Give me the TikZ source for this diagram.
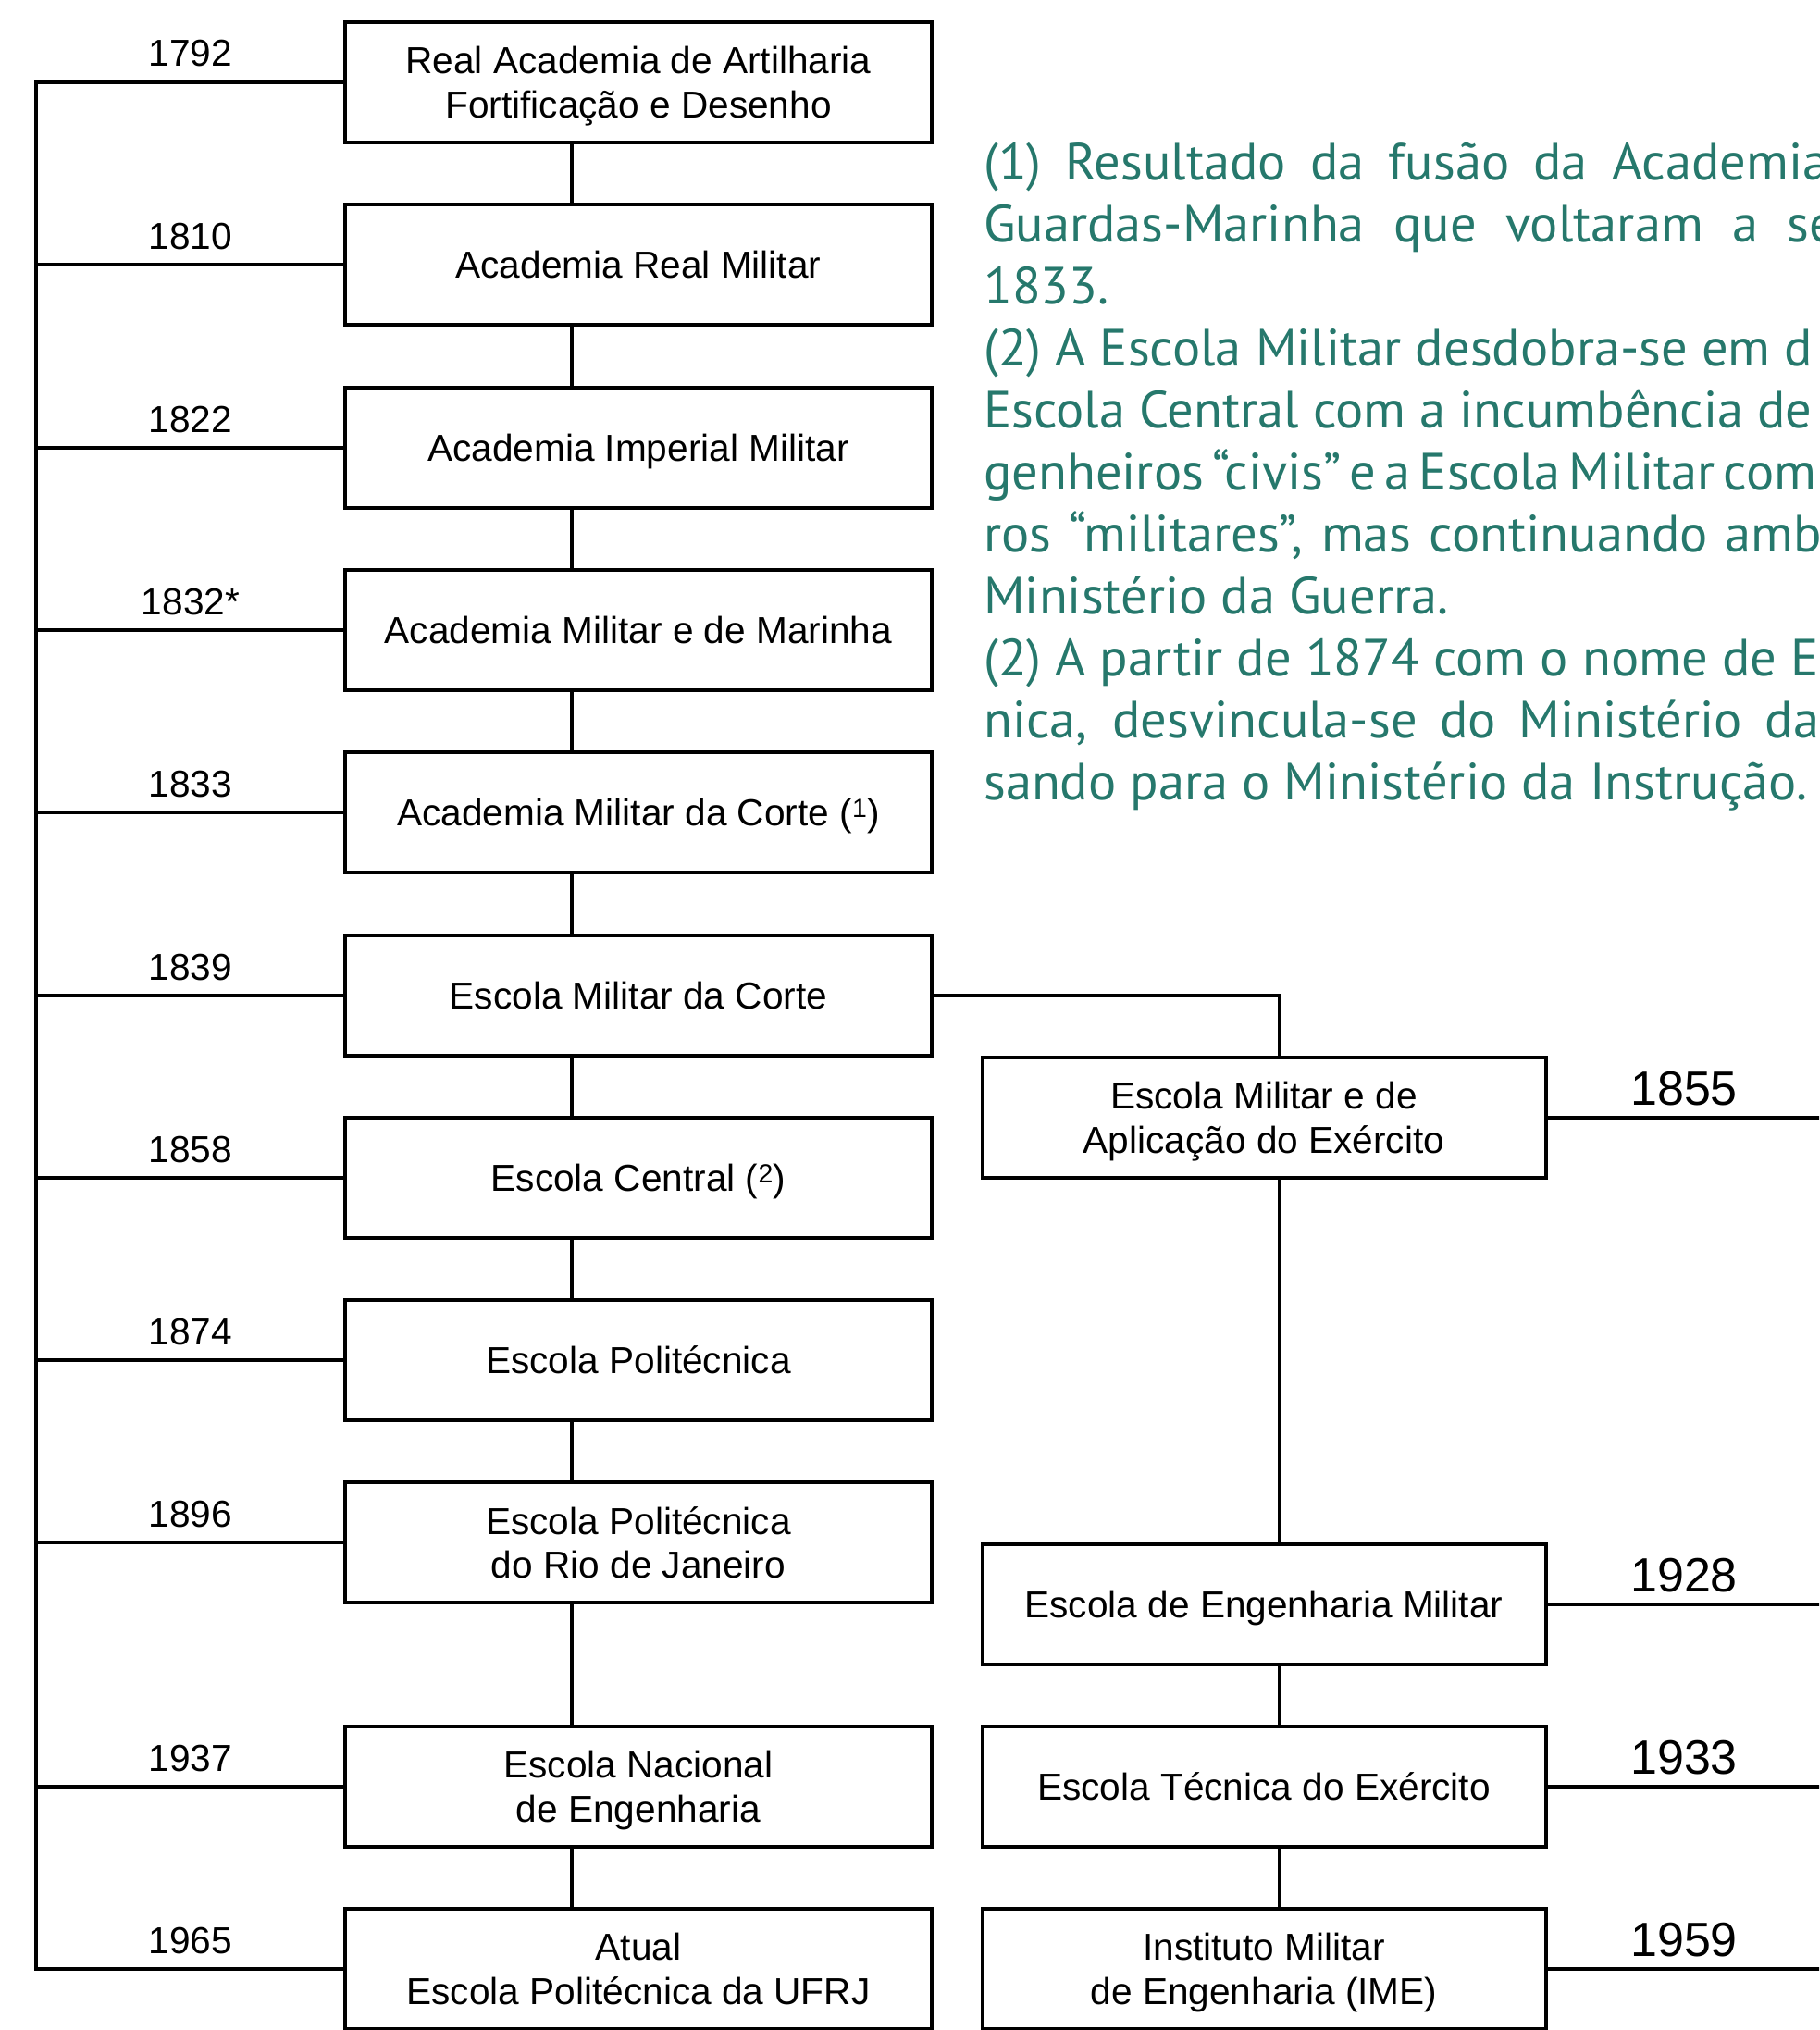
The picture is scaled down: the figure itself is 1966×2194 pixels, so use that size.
\documentclass[tikz,border=0pt]{standalone}
\usepackage{fontspec}
\usepackage{xcolor}
\setmainfont{Liberation Sans}
\newfontfamily\notefont{PT Sans}
\definecolor{notegreen}{HTML}{26786C}

\begin{document}
\begin{tikzpicture}[x=1pt,y=-1pt,
  escola/.style={draw,line width=4pt,minimum width=634pt,minimum height=130pt,inner sep=0pt,text depth=0pt,align=center,font=\fontsize{40.6}{47.6}\selectfont},
  ano/.style={anchor=base,font=\fontsize{40.6}{47.6}\selectfont},
  anobig/.style={anchor=base,font=\fontsize{52}{60}\selectfont},
  linha/.style={line width=3.5pt},
  nota/.style={anchor=base west,inner sep=0pt,text=notegreen,font=\notefont\fontsize{56.5}{67}\selectfont}]
\useasboundingbox (0,0) rectangle (1966,2194);
\clip (0,0) rectangle (1966,2194);
\coordinate (spine) at (39,0);
\coordinate (rim) at (1990,0);
% left column
  \foreach \n/\y/\yr/\txt in {0/89/1792/{Real Academia de Artilharia\\Fortificação e Desenho},
    1/286/1810/{Academia Real Militar},2/484/1822/{Academia Imperial Militar},
    3/681/1832*/{Academia Militar e de Marinha},4/878/1833/{Academia Militar da Corte (\textsuperscript{1})},
    5/1076/1839/{Escola Militar da Corte},6/1273/1858/{Escola Central (\textsuperscript{2})},
    7/1470/1874/{Escola Politécnica},8/1667/1896/{Escola Politécnica\\do Rio de Janeiro},
    9/1931/1937/{Escola Nacional\\de Engenharia},10/2128/1965/{Atual\\Escola Politécnica da UFRJ}}
  {  \node [escola] (e\n) at (690,\y) {\txt};
     \node [ano] (a\n) at (206,\y-17) {\yr};
     \draw [linha] (e\n.west) -- (e\n.west -| spine);}
\draw [linha] (e0.west) -| (e10.west -| spine) -- (e10.west);
  \foreach \a/\b in {0/1,1/2,2/3,3/4,4/5,5/6,6/7,7/8,8/9,9/10}
  {  \draw [linha] ([xshift=-72pt]e\a.south) -- ([xshift=-72pt]e\b.north);}
% right column
  \foreach \n/\y/\yr/\txt in {0/1208/1855/{Escola Militar e de\\Aplicação do Exército},
    1/1734/1928/{Escola de Engenharia Militar},2/1931/1933/{Escola Técnica do Exército},
    3/2128/1959/{Instituto Militar\\de Engenharia (IME)}}
  {  \node [escola,minimum width=609pt] (m\n) at (1366,\y) {\txt};
     \node [anobig] (b\n) at (1820,\y-14) {\yr};
     \draw [linha] (m\n.east) -- (m\n.east -| rim);}
\draw [linha] (e5.east) -| ([xshift=17pt]m0.north);
  \foreach \a/\b in {0/1,1/2,2/3}
  {  \draw [linha] ([xshift=17pt]m\a.south) -- ([xshift=17pt]m\b.north);}
% notes
  \foreach \i/\t in {0/{\makebox[913pt][s]{(1) Resultado da fusão da Academia}},
    1/{\makebox[921pt][s]{Guardas-Marinha que voltaram a se}},2/{1833.},
    3/{(2) A Escola Militar desdobra-se em d},4/{Escola Central com a incumbência de},
    5/{\makebox[900pt][s]{\spaceskip=.12em plus 1fil genheiros “civis” e a Escola Militar com}},
    6/{\makebox[906pt][s]{ros “militares”, mas continuando amb}},
    7/{Ministério da Guerra.},8/{(2) A partir de 1874 com o nome de E},
    9/{\makebox[903pt][s]{nica, desvincula-se do Ministério da}},10/{sando para o Ministério da Instrução.}}
  {  \node [nota] (n\i) at (1063,194+67*\i) {\t};}
\end{tikzpicture}
\end{document}
